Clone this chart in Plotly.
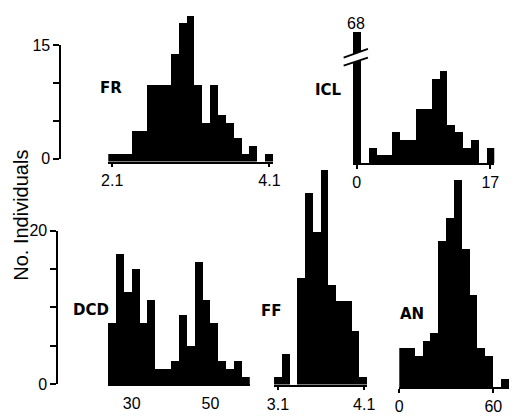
import plotly.graph_objects as go

W, H = 518, 419

# ---------------- data ----------------
fr_bins = [2.1, 2.2, 2.3, 2.4, 2.5, 2.6, 2.7, 2.8, 2.9, 3.0, 3.1, 3.2, 3.3, 3.4, 3.5, 3.6, 3.7, 3.8, 3.9, 4.0, 4.1]
fr_counts = [1, 1, 1, 4, 4, 10, 10, 10, 14, 18, 19, 10, 5, 10, 6, 5, 3, 1, 2, 0, 1]

icl_bins = [0, 1, 2, 3, 4, 5, 6, 7, 8, 9, 10, 11, 12, 13, 14, 15, 16, 17]
icl_counts = [68, 0, 2, 1, 1, 4, 3, 3, 7, 7, 11, 12, 5, 4, 2, 3, 0, 2]

dcd_bins = [25, 27, 29, 31, 33, 35, 37, 39, 41, 43, 45, 47, 49, 51, 53, 55, 57, 59]
dcd_counts = [8, 17, 12, 15, 8, 11, 2, 2, 3, 9, 5, 16, 11, 8, 3, 2, 3, 1]

ff_bins = [3.10, 3.19, 3.28, 3.37, 3.46, 3.55, 3.64, 3.73, 3.82, 3.91, 4.00, 4.09]
ff_counts = [1, 4, 0, 14, 25, 20, 28, 13, 11, 11, 7, 1]

an_bins = [2.5, 7.5, 12.5, 17.5, 22.5, 27.5, 32.5, 37.5, 42.5, 47.5, 52.5, 57.5, 62.5, 67.5]
an_counts = [5, 5, 4, 6, 7, 19, 22, 27, 18, 12, 5, 4, 0, 1]

fr_ticks, fr_ticktext = [2.1, 4.1], ["2.1", "4.1"]
icl_ticks, icl_ticktext = [0, 17], ["0", "17"]
dcd_ticks, dcd_ticktext = [30, 50], ["30", "50"]
ff_ticks, ff_ticktext = [3.1, 4.1], ["3.1", "4.1"]
an_ticks, an_ticktext = [0, 60], ["0", "60"]

top_counts_ticks, top_counts_text = [0, 5, 10, 15], ["0", "", "", "15"]
bot_counts_ticks, bot_counts_text = [0, 5, 10, 15, 20], ["0", "", "", "", "20"]

panel_labels = ["FR", "ICL", "DCD", "FF", "AN"]
icl_clipped_label = "68"
y_title = "No. Individuals"

# ---------------- layout helpers ----------------
def fx(x):
    return x / W

def fy(y):
    return 1 - y / H

PXU = 8.0  # pixels per count
TICKFONT = dict(family="Liberation Sans", size=16, color="black")
LABFONT = dict(family="DejaVu Sans", size=15, color="black", weight="bold")

# name, bins, counts, bar width, x range, x0px, x1px, baseline px, top px, ticks, ticktext, show tick marks, label pos
panels = [
    ("FR", fr_bins, fr_counts, 0.1, [2.05, 4.15], 104.3, 274.3, 160.0, 0.0, fr_ticks, fr_ticktext, True, (107, 83)),
    ("ICL", icl_bins, icl_counts, 1.0, [-0.5, 17.5], 356.0, 501.8, 161.5, 25.0, icl_ticks, icl_ticktext, True, (331, 85)),
    ("DCD", dcd_bins, dcd_counts, 2.0, [24, 60], 104.0, 250.0, 392.0, 180.0, dcd_ticks, dcd_ticktext, False, (86, 315)),
    ("FF", ff_bins, ff_counts, 0.09, [3.055, 4.135], 275.0, 371.0, 392.5, 160.0, ff_ticks, ff_ticktext, True, (272, 316)),
    ("AN", an_bins, an_counts, 5.0, [0, 70], 404.0, 517.0, 395.0, 170.0, an_ticks, an_ticktext, True, (417, 319)),
]

fig = go.Figure()
layout = dict(
    width=W, height=H, autosize=False,
    margin=dict(l=0, r=0, t=0, b=0),
    paper_bgcolor="white", plot_bgcolor="rgba(0,0,0,0)",
    showlegend=False, bargap=0,
)
annotations = []
shapes = []

for i, (name, bins, counts, bw, xr, x0, x1, base, top, tv, tt, showt, lp) in enumerate(panels, start=1):
    fig.add_trace(go.Bar(
        x=bins, y=counts, width=bw,
        marker=dict(color="black", line=dict(width=0)),
        xaxis=f"x{i}", yaxis=f"y{i}", hoverinfo="skip",
    ))
    layout[f"xaxis{i}"] = dict(
        domain=[fx(x0), fx(x1)], range=xr, anchor=f"y{i}",
        showline=True, linecolor="black", linewidth=1.5,
        ticks="outside", ticklen=4, tickwidth=1.5,
        tickcolor="black" if showt else "rgba(0,0,0,0)",
        tickvals=tv, ticktext=tt, tickfont=TICKFONT,
        showgrid=False, zeroline=False, fixedrange=True,
    )
    layout[f"yaxis{i}"] = dict(
        domain=[fy(base), fy(top)], range=[0, (base - top) / PXU], anchor=f"x{i}",
        visible=False, showgrid=False, zeroline=False, fixedrange=True,
    )
    annotations.append(dict(
        x=fx(lp[0]), y=fy(lp[1]), xref="paper", yref="paper",
        text=name, showarrow=False, font=LABFONT,
        xanchor="center", yanchor="middle",
    ))

# shared count axes (left)
for j, (xpx, ybot, ytop, rng, tv, tt) in enumerate([
    (56, 157, 39, 15, top_counts_ticks, top_counts_text),
    (53, 392, 232, 20, bot_counts_ticks, bot_counts_text),
], start=6):
    fig.add_trace(go.Scatter(x=[], y=[], xaxis=f"x{j}", yaxis=f"y{j}", hoverinfo="skip"))
    layout[f"xaxis{j}"] = dict(domain=[fx(xpx), fx(xpx + 4)], range=[0, 1], anchor=f"y{j}",
                               visible=False, fixedrange=True)
    layout[f"yaxis{j}"] = dict(
        domain=[fy(ybot), fy(ytop)], range=[0, rng], anchor=f"x{j}",
        showline=True, linecolor="black", linewidth=2,
        ticks="outside", ticklen=6, tickwidth=1.5, tickcolor="black",
        tickvals=tv, ticktext=tt, tickfont=TICKFONT,
        showgrid=False, zeroline=False, fixedrange=True,
    )

# break marks on the clipped ICL bar at 0
bx0, bx1 = 346.7, 371.7
shapes.append(dict(
    type="path", xref="paper", yref="paper",
    path=f"M {fx(bx0)},{fy(60)} L {fx(bx1)},{fy(51.7)} L {fx(bx1)},{fy(42.7)} L {fx(bx0)},{fy(51.7)} Z",
    fillcolor="white", line=dict(width=0), layer="above",
))
for (ya, yb) in [(60, 51.7), (51.7, 42.7)]:
    shapes.append(dict(type="line", xref="paper", yref="paper",
                       x0=fx(bx0), y0=fy(ya), x1=fx(bx1), y1=fy(yb),
                       line=dict(color="black", width=1.8), layer="above"))

annotations.append(dict(
    x=fx(359), y=fy(16), xref="paper", yref="paper", text=icl_clipped_label,
    showarrow=False, font=TICKFONT, xanchor="center", yanchor="middle",
))
annotations.append(dict(
    x=fx(14.5), y=fy(216.5), xref="paper", yref="paper", text=y_title,
    showarrow=False, textangle=-90,
    font=dict(family="Liberation Sans", size=20, color="black"),
    xanchor="center", yanchor="middle",
))

layout["annotations"] = annotations
layout["shapes"] = shapes
fig.update_layout(**layout)
fig.write_html("out.html", config={"displayModeBar": False},
               post_script="document.body.style.margin='0';")
